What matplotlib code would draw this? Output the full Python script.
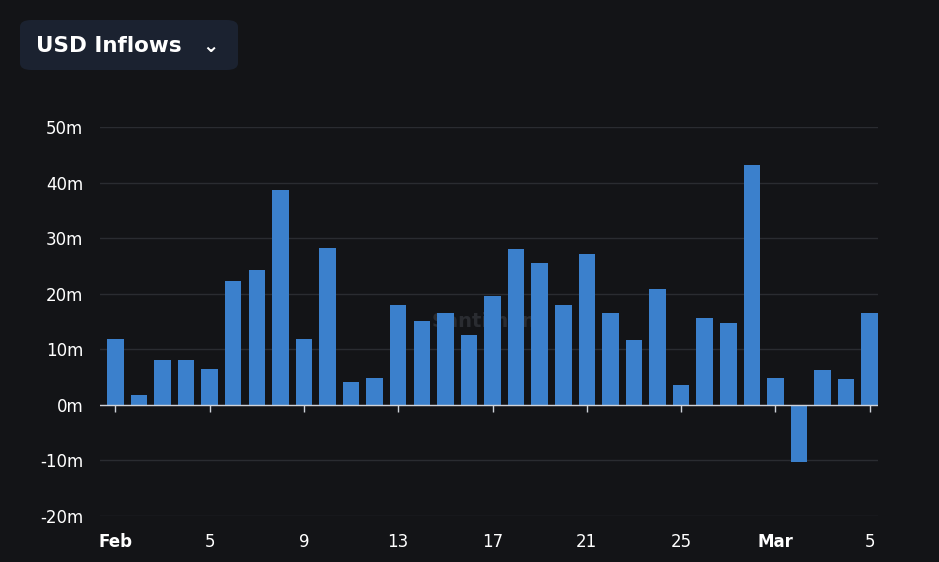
import matplotlib
matplotlib.use("Agg")
import matplotlib.pyplot as plt
from matplotlib.patches import FancyBboxPatch

days = list(range(33))
values = [11.8,1.8,8.1,8.1,6.5,22.3,24.2,38.7,11.8,28.2,4.2,4.9,18.0,15.1,16.5,12.5,19.6,
          28.0,25.5,17.9,27.1,16.5,11.6,20.9,3.6,15.6,14.7,43.2,4.9,-10.2,6.3,4.6,16.5]
tick_pos = [0,4,8,12,16,20,24,28,32]
tick_labels = ["Feb","5","9","13","17","21","25","Mar","5"]
yticks = [-20,-10,0,10,20,30,40,50]

bg = "#131417"
fig = plt.figure(figsize=(9.39,5.62), dpi=100, facecolor=bg)
ax = fig.add_axes([100/939, 1-516/562, 778/939, (516-127)/562])
ax.set_facecolor(bg)
ax.bar(days, values, width=0.7, color="#3b80cc", zorder=3)
ax.set_xlim(-0.65, 32.35)
ax.set_ylim(-20, 50)
ax.set_yticks(yticks)
ax.set_yticklabels([f"{v}m" for v in yticks], color="white", fontsize=12)
ax.set_xticks(tick_pos)
ax.set_xticklabels(tick_labels, color="white", fontsize=12)
for i, l in enumerate(ax.get_xticklabels()):
    if tick_labels[i] in ("Feb","Mar"):
        l.set_fontweight("bold")
ax.grid(axis="y", color="#2a2c31", lw=1, zorder=0)
for s in ax.spines.values():
    s.set_visible(False)
ax.axhline(0, color="#cfd3da", lw=1, zorder=4)
ax.vlines(tick_pos, -1.3, 0, color="#cfd3da", lw=1, zorder=4)
ax.tick_params(axis="y", length=0, pad=12)
ax.tick_params(axis="x", length=0, pad=12)
ax.text(0.5, 0.5, "Santiment", transform=ax.transAxes, color="#3a3d44", fontsize=14,
        ha="center", va="center", fontweight="bold", zorder=2, alpha=0.6)

box = FancyBboxPatch((20/939, 1-70/562), 218/939, 50/562, boxstyle="round,pad=0,rounding_size=0.012",
                     transform=fig.transFigure, facecolor="#1b2230", edgecolor="none")
fig.patches.append(box)
fig.text(36/939, 1-46/562, "USD Inflows", color="white", fontsize=15.5, fontweight="bold", va="center")
fig.text(210/939, 1-46/562, "⌄", color="white", fontsize=14, fontweight="bold", va="center", ha="center")
fig.savefig("out.png", dpi=100, facecolor=bg)
